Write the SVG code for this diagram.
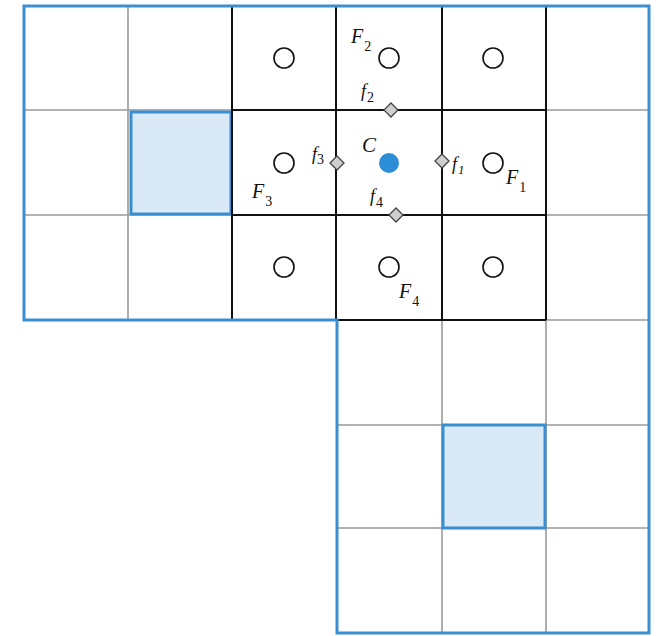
<svg xmlns="http://www.w3.org/2000/svg" width="659" height="636" viewBox="0 0 659 636">
<style>
.g{stroke:#9a9a9a;stroke-width:1.6;fill:none}
.k{stroke:#111;stroke-width:2;fill:none}
.b{stroke:#3a8fd2;stroke-width:3;fill:none}
.hl{fill:#d9eaf6;stroke:#3a8fd2;stroke-width:3}
.c{fill:#fff;stroke:#111;stroke-width:1.6}
.d{fill:#cfcfcf;stroke:#444;stroke-width:1.3}
.t{font-family:"Liberation Serif",serif;font-style:italic;fill:#111}
.F{font-size:20px}
.f{font-size:18px}
.s{font-size:14px;font-style:normal}
.fs{font-size:13px;font-style:italic}
</style>
<rect width="659" height="636" fill="#fff"/>
<g id="grid">
<path class="g" d="M128 6V320M24 110H232M24 215H232M442 320V633M546 320V633M337 425H649M337 528H649M546 110H649M546 215H649M546 320H649"/>
</g>
<g id="highlight">
<rect class="hl" x="131" y="112" width="100" height="102"/>
<rect class="hl" x="443" y="425" width="102" height="103"/>
</g>
<g id="stencil">
<path class="k" d="M232 6V320M336 6V320M442 6V320M546 6V320M232 110H546M232 215H546M232 320H546"/>
</g>
<g id="domain">
<path class="b" d="M24 6H649V633H337V320H24Z"/>
</g>
<g id="cells">
<circle class="c" cx="284" cy="58" r="10"/>
<circle class="c" cx="389" cy="58" r="10"/>
<circle class="c" cx="493" cy="58" r="10"/>
<circle class="c" cx="284" cy="163" r="10"/>
<circle class="c" cx="493" cy="163" r="10"/>
<circle class="c" cx="284" cy="267" r="10"/>
<circle class="c" cx="389" cy="267" r="10"/>
<circle class="c" cx="493" cy="267" r="10"/>
</g>
<g id="C">
<circle cx="389" cy="163" r="10" fill="#2b8ed6"/>
<text class="t" x="362" y="152" font-size="21">C</text>
</g>
<g id="faces">
<path class="d" d="M391 103L398 110L391 117L384 110Z"/>
<path class="d" d="M337 156L344 163L337 170L330 163Z"/>
<path class="d" d="M442 154L449 161L442 168L435 161Z"/>
<path class="d" d="M396 208L403 215L396 222L389 215Z"/>
</g>
<g id="labels">
<text class="t F" x="351" y="43">F<tspan class="s" dx="1" dy="8">2</tspan></text>
<text class="t F" x="506" y="184">F<tspan class="s" dx="1" dy="8">1</tspan></text>
<text class="t F" x="252" y="198">F<tspan class="s" dx="1" dy="8">3</tspan></text>
<text class="t F" x="399" y="298">F<tspan class="s" dx="1" dy="8">4</tspan></text>
<text class="t f" x="361" y="97">f<tspan class="s" dx="1" dy="5">2</tspan></text>
<text class="t f" x="312" y="160">f<tspan class="s" dx="0" dy="4">3</tspan></text>
<text class="t f" x="452" y="170">f<tspan class="fs" dx="1" dy="4">1</tspan></text>
<text class="t f" x="370" y="202">f<tspan class="s" dx="1" dy="5">4</tspan></text>
</g>
</svg>
